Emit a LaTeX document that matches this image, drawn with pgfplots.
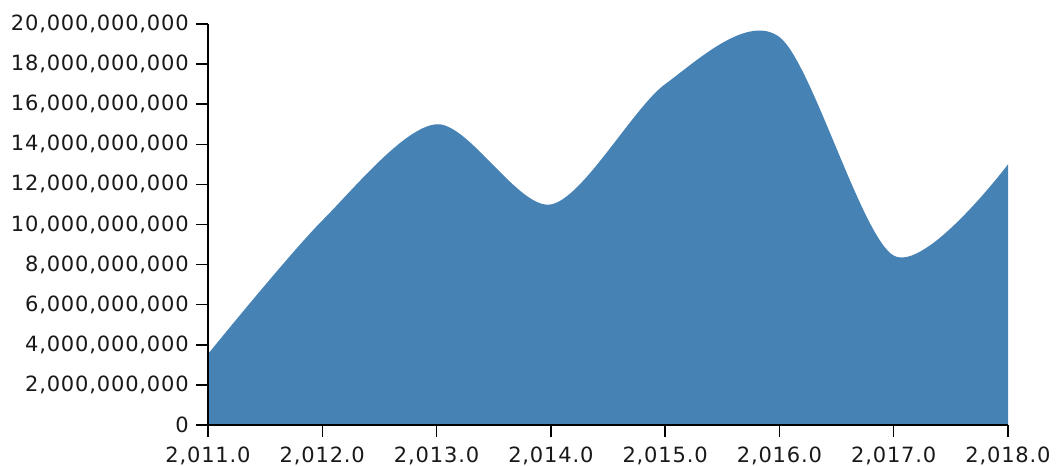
\documentclass[border=0pt]{standalone}
\usepackage{fontspec}
\setmainfont{DejaVu Sans}
\usepackage{pgfplots}
\pgfplotsset{compat=1.18}
\definecolor{steel}{HTML}{4682B4}
\begin{document}
\begin{tikzpicture}
\useasboundingbox (-208bp,-41bp) rectangle (848bp,425bp);
\begin{axis}[at={(0bp,0bp)}, anchor=south west, scale only axis,
  width=800bp, height=401bp,
  xmin=2011, xmax=2018, ymin=0, ymax=20000000000,
  scaled y ticks=false, scaled x ticks=false,
  axis lines=left, axis on top,
  axis line style={-, line width=1.4bp, black},
  xtick={2011,2012,2013,2014,2015,2016,2017,2018},
  xticklabels={{2,011.0},{2,012.0},{2,013.0},{2,014.0},{2,015.0},{2,016.0},{2,017.0},{2,018.0}},
  ytick={0,2000000000,4000000000,6000000000,8000000000,10000000000,12000000000,14000000000,16000000000,18000000000,20000000000},
  yticklabels={0,{2,000,000,000},{4,000,000,000},{6,000,000,000},{8,000,000,000},{10,000,000,000},{12,000,000,000},{14,000,000,000},{16,000,000,000},{18,000,000,000},{20,000,000,000}},
  tick align=outside, major tick length=12bp,
  tick style={line width=1.4bp, black},
  ticklabel style={font=\fontsize{21bp}{24bp}\selectfont\addfontfeature{LetterSpace=4}, text=black!90},
  yticklabel style={inner sep=0pt, xshift=-7bp},
  xticklabel style={inner sep=0pt, yshift=-10bp},
]
\addplot[draw=none, fill=steel, smooth, tension=0.5] coordinates {
  (2011,3540000000) (2012,10200000000) (2013,15000000000) (2014,11000000000)
  (2015,17000000000) (2016,19350000000) (2017,8450000000) (2018,13000000000)
} \closedcycle;
\end{axis}
\end{tikzpicture}
\end{document}
